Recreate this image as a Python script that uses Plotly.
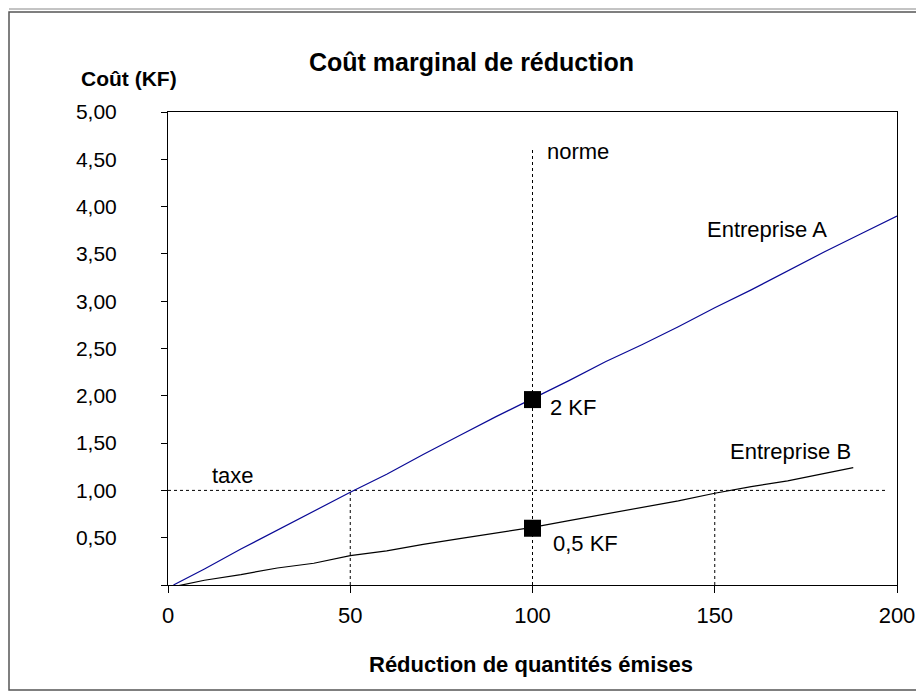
import plotly.graph_objects as go

# ---- data ----
x_a = [1.5, 10, 20, 30, 40, 50, 60, 70, 80, 90, 100, 110, 120, 130, 140, 150, 160, 170, 180, 190, 200]
y_a = [0.0, 0.17, 0.38, 0.58, 0.78, 0.98, 1.17, 1.38, 1.58, 1.78, 1.97, 2.16, 2.36, 2.54, 2.73, 2.93, 3.12, 3.32, 3.52, 3.71, 3.9]

x_b = [0, 10, 20, 30, 40, 50, 60, 70, 80, 90, 100, 110, 120, 130, 140, 150, 160, 170, 180, 188]
y_b = [-0.03, 0.05, 0.11, 0.18, 0.23, 0.31, 0.36, 0.43, 0.49, 0.55, 0.61, 0.68, 0.75, 0.82, 0.89, 0.97, 1.04, 1.10, 1.18, 1.24]

taxe = 1.0
taxe_x_end = 197
norme = 100
norme_y_top = 4.6
taxe_cross_a = 50
taxe_cross_b = 150

points_x = [100, 100]
points_y = [1.96, 0.6]

x_ticks = [0, 50, 100, 150, 200]
y_ticks = [0, 0.5, 1.0, 1.5, 2.0, 2.5, 3.0, 3.5, 4.0, 4.5, 5.0]
y_ticktext = ["", "0,50", "1,00", "1,50", "2,00", "2,50", "3,00", "3,50", "4,00", "4,50", "5,00"]

labels = ["norme", "Entreprise A", "Entreprise B", "taxe", "2 KF", "0,5 KF"]
labels_x = [103.4, 147.3, 153.6, 11.5, 104.3, 105]
labels_y = [4.58, 3.76, 1.41, 1.16, 1.88, 0.44]

FONT = "Liberation Sans, Arial, sans-serif"

fig = go.Figure()

dot = dict(color="black", width=1, dash="dot")
# reference dotted lines
fig.add_trace(go.Scatter(x=[0, taxe_x_end], y=[taxe, taxe], mode="lines", line=dot, hoverinfo="skip"))
fig.add_trace(go.Scatter(x=[norme, norme], y=[0, norme_y_top], mode="lines", line=dot, hoverinfo="skip"))
fig.add_trace(go.Scatter(x=[taxe_cross_a, taxe_cross_a], y=[0, taxe], mode="lines", line=dot, hoverinfo="skip"))
fig.add_trace(go.Scatter(x=[taxe_cross_b, taxe_cross_b], y=[0, taxe], mode="lines", line=dot, hoverinfo="skip"))

fig.add_trace(go.Scatter(x=x_a, y=y_a, mode="lines", name="Entreprise A",
                         line=dict(color="#0a0a96", width=1.2)))
fig.add_trace(go.Scatter(x=x_b, y=y_b, mode="lines", name="Entreprise B",
                         line=dict(color="black", width=1.2)))
fig.add_trace(go.Scatter(x=points_x, y=points_y, mode="markers",
                         marker=dict(symbol="square", size=17, color="black")))

ann_font = dict(family=FONT, size=22, color="black")
for t, ax, ay in zip(labels, labels_x, labels_y):
    fig.add_annotation(x=ax, y=ay, text=t, showarrow=False, xanchor="left", yanchor="middle", font=ann_font)

fig.add_annotation(xref="paper", yref="paper", x=(471 - 168) / 729, y=(585 - 62) / 473,
                   text="<b>Coût marginal de réduction</b>", showarrow=False,
                   xanchor="center", yanchor="middle", font=dict(family=FONT, size=25, color="black"))
fig.add_annotation(xref="paper", yref="paper", x=(129 - 168) / 729, y=(585 - 78) / 473,
                   text="<b>Coût (KF)</b>", showarrow=False,
                   xanchor="center", yanchor="middle", font=dict(family=FONT, size=21, color="black"))
fig.add_annotation(xref="paper", yref="paper", x=(531 - 168) / 729, y=(585 - 664) / 473,
                   text="<b>Réduction de quantités émises</b>", showarrow=False,
                   xanchor="center", yanchor="middle", font=dict(family=FONT, size=22, color="black"))

# outer frame
fig.add_shape(type="rect", xref="paper", yref="paper",
              x0=(9 - 168) / 729, x1=(921 - 168) / 729,
              y0=(585 - 690) / 473, y1=(585 - 12) / 473,
              line=dict(color="#555555", width=1.5))
fig.add_shape(type="line", xref="paper", yref="paper",
              x0=(9 - 168) / 729, x1=(924 - 168) / 729,
              y0=(585 - 9) / 473, y1=(585 - 9) / 473,
              line=dict(color="#888888", width=1))

fig.update_layout(
    width=924, height=693,
    margin=dict(l=160, r=35, t=104, b=116),
    paper_bgcolor="white", plot_bgcolor="white",
    showlegend=False,
    font=dict(family=FONT, color="black"),
)
fig.update_xaxes(range=[0, 200], tickvals=x_ticks, ticktext=[str(v) for v in x_ticks],
                 showgrid=False, zeroline=False, showline=True, linecolor="black", linewidth=1,
                 mirror=True, ticks="outside", ticklen=7, tickcolor="black",
                 tickfont=dict(family=FONT, size=22), ticklabelstandoff=4)
fig.update_yaxes(range=[0, 5], tickvals=y_ticks, ticktext=y_ticktext,
                 showgrid=False, zeroline=False, showline=True, linecolor="black", linewidth=1,
                 mirror=True, ticks="outside", ticklen=6, tickcolor="black",
                 tickfont=dict(family=FONT, size=21), ticklabelstandoff=40)

fig.write_html("out.html")
